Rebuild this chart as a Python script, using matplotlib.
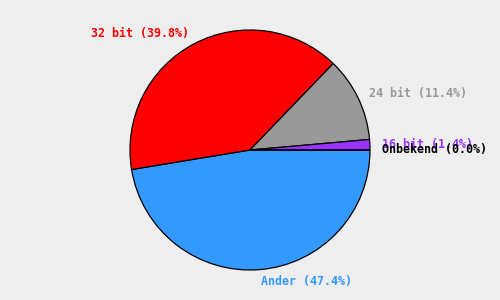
import matplotlib
matplotlib.use('Agg')
import matplotlib.pyplot as plt

# slices, clockwise from 3 o'clock
categories = ['Ander', '32 bit', '24 bit', '16 bit', 'Onbekend']
values = [47.4, 39.8, 11.4, 1.4, 0.0]
colors = ['#3399ff', '#ff0000', '#999999', '#9933ff', '#000000']

labels = ['%s (%.1f%%)' % (c, v) for c, v in zip(categories, values)]

fig = plt.figure(figsize=(5, 3), dpi=100, facecolor='#eeeeee')
ax = fig.add_axes([0, 0, 1, 1])
ax.set_facecolor('#eeeeee')

wedges, texts = ax.pie(values, colors=colors, labels=labels,
                       startangle=0, counterclock=False, labeldistance=1.1,
                       wedgeprops={'edgecolor': 'black', 'linewidth': 0.9},
                       textprops={'family': 'DejaVu Sans Mono', 'weight': 'bold',
                                  'size': 8.4})
for t, c in zip(texts, colors):
    t.set_color(c)
    t.set_va('center')

# radius 1 = 120 px, centre at (250, 150)
ax.set_aspect('auto')
ax.set_xlim(-250 / 120, 250 / 120)
ax.set_ylim(-150 / 120, 150 / 120)
ax.axis('off')

fig.savefig('out.png', facecolor='#eeeeee')
